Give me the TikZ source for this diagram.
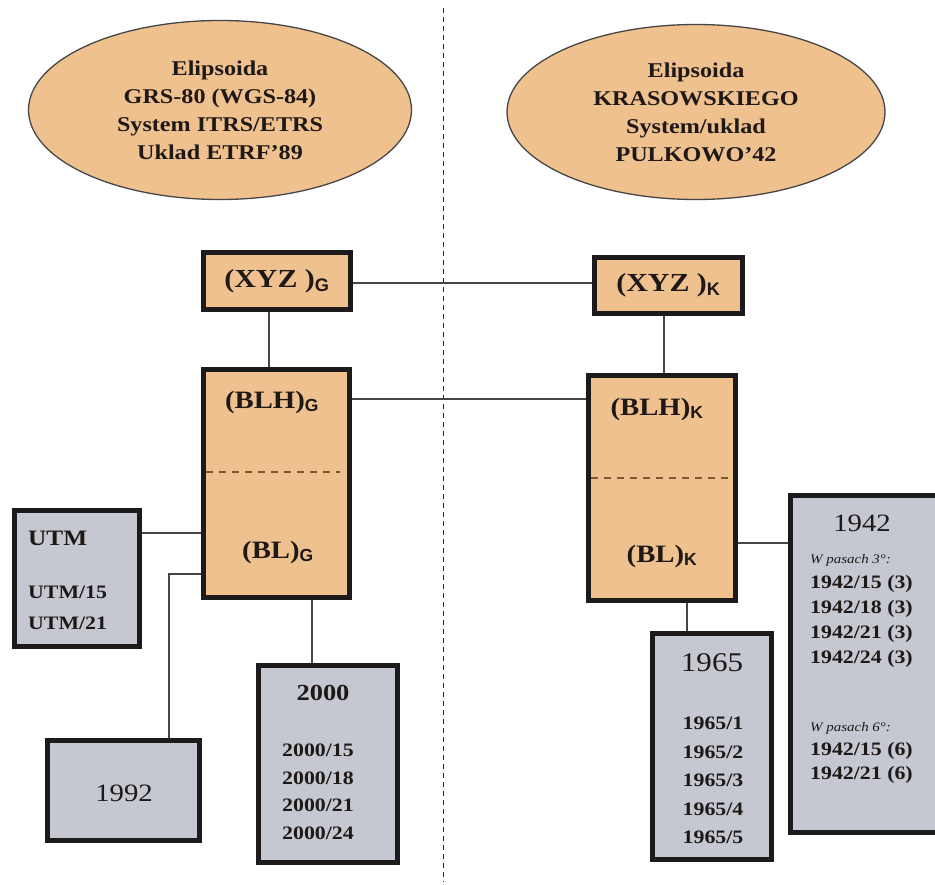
\documentclass[tikz,border=0pt]{standalone}
\usepackage{fontspec}
\setmainfont{Liberation Serif}[FakeStretch=1.15]
\setsansfont{Liberation Sans}
\usetikzlibrary{shapes.geometric}

\definecolor{tanfill}{RGB}{239,193,143}
\definecolor{slatefill}{RGB}{197,200,209}
\definecolor{boxline}{RGB}{28,26,26}
\definecolor{wire}{RGB}{70,70,70}
\definecolor{inktext}{RGB}{30,24,22}
\definecolor{divline}{RGB}{130,85,50}

\newcommand{\subG}{\textsubscript{\sffamily\bfseries G}}
\newcommand{\subK}{\textsubscript{\sffamily\bfseries K}}

\begin{document}
\begin{tikzpicture}[x=1pt, y=-1pt,
  ellipsoid/.style={ellipse, draw=wire, line width=1.3pt, fill=tanfill, inner sep=0pt,
    align=center, text=inktext, font=\fontsize{21}{28}\selectfont\bfseries},
  orangebox/.style={draw=boxline, line width=4.5pt, fill=tanfill, inner sep=0pt, text=inktext},
  graybox/.style={draw=boxline, line width=4.5pt, fill=slatefill, inner sep=0pt},
  link/.style={draw=wire, line width=1.5pt},
  divider/.style={divline, line width=1.6pt, dash pattern=on 7pt off 6pt},
  boxtext/.style={text=inktext, inner sep=0pt},
]
\useasboundingbox (0,0) rectangle (935,885);
\fill[white] (0,0) rectangle (935,885);

% Separator between the two systems
\draw[black!85, line width=1pt, dash pattern=on 5pt off 4pt] (443,8) -- (443,882);

% Ellipsoids
\node[ellipsoid, minimum width=383pt, minimum height=179pt] (elG) at (220,110)
  {Elipsoida\\GRS-80 (WGS-84)\\System ITRS/ETRS\\Uklad ETRF’89};
\node[ellipsoid, minimum width=378pt, minimum height=175pt] (elK) at (696,112)
  {Elipsoida\\KRASOWSKIEGO\\System/uklad\\PULKOWO’42};

% Geocentric coordinates
\node[orangebox, minimum width=147pt, minimum height=57pt, font=\fontsize{26}{28}\selectfont\bfseries] (xyzG) at (277,281) {(XYZ )\subG};
\node[orangebox, minimum width=148pt, minimum height=56pt, font=\fontsize{26}{28}\selectfont\bfseries] (xyzK) at (668.5,285.5) {(XYZ )\subK};

% Geodetic coordinates
\node[orangebox, minimum width=146pt, minimum height=228pt] (blhG) at (276.5,483.5) {};
\node[orangebox, minimum width=147pt, minimum height=225pt] (blhK) at (662,488) {};
\draw[divider] (206,472) -- (340,472);
\draw[divider] (591,478) -- (733,478);
\node[boxtext, font=\fontsize{25}{28}\selectfont\bfseries] (blhGtop) at (272,402) {(BLH)\subG};
\node[boxtext, font=\fontsize{25}{28}\selectfont\bfseries] (blhGbot) at (278,552) {(BL)\subG};
\node[boxtext, font=\fontsize{25}{28}\selectfont\bfseries] (blhKtop) at (657,409) {(BLH)\subK};
\node[boxtext, font=\fontsize{25}{28}\selectfont\bfseries] (blhKbot) at (662,556) {(BL)\subK};

% Map projections, left side
\node[graybox, minimum width=125pt, minimum height=136pt] (utm) at (77,578.5) {};
\node[boxtext, anchor=base west, font=\fontsize{22}{26}\selectfont\bfseries] (utmhead) at (28,545) {UTM};
\node[boxtext, anchor=base west, align=left, font=\fontsize{19}{31}\selectfont\bfseries] (utmlist) at (28,629.5) {UTM/15\\UTM/21};

\node[graybox, minimum width=152pt, minimum height=100pt] (y1992) at (123.5,790.5) {};
\node[boxtext, font=\fontsize{25}{28}\selectfont] (h1992) at (124,793) {1992};

\node[graybox, minimum width=139pt, minimum height=197pt] (y2000) at (328,764) {};
\node[boxtext, font=\fontsize{23}{28}\selectfont\bfseries] (h2000) at (323,693) {2000};
\node[boxtext, anchor=base, align=center, font=\fontsize{19}{27.7}\selectfont\bfseries] (l2000) at (318,839.5)
  {2000/15\\2000/18\\2000/21\\2000/24};

% Map projections, right side
\node[graybox, minimum width=119pt, minimum height=226pt] (y1965) at (712,746.5) {};
\node[boxtext, font=\fontsize{27}{30}\selectfont] (h1965) at (712,663) {1965};
\node[boxtext, anchor=base, align=center, font=\fontsize{19}{28.5}\selectfont\bfseries] (l1965) at (713,843.5)
  {1965/1\\1965/2\\1965/3\\1965/4\\1965/5};

% the 1942 box runs off the right edge
\node[graybox, minimum width=200pt, minimum height=337pt] (y1942) at (890.5,664) {};
\node[boxtext, font=\fontsize{25}{28}\selectfont] (h1942) at (862,523) {1942};
\node[boxtext, anchor=base west, align=left, font=\fontsize{19}{25}\selectfont\bfseries] (l1942a) at (810,663.5)
  {{\fontsize{13}{25}\selectfont\mdseries\itshape W pasach 3°:}\\1942/15 (3)\\1942/18 (3)\\1942/21 (3)\\1942/24 (3)};
\node[boxtext, anchor=base west, align=left, font=\fontsize{19}{24}\selectfont\bfseries] (l1942b) at (810,779.5)
  {{\fontsize{13}{24}\selectfont\mdseries\itshape W pasach 6°:}\\1942/15 (6)\\1942/21 (6)};

% Connectors
\draw[link] ([yshift=-2pt]xyzG.east) -- ([yshift=-2pt]xyzG.east -| xyzK.west);
\draw[link] ([xshift=-8pt]xyzG.south) -- ([xshift=-8pt]xyzG.south |- blhG.north);
\draw[link] ([xshift=-4.5pt]xyzK.south) -- ([xshift=-4.5pt]xyzK.south |- blhK.north);
\draw[link] (blhG.east |- 0,399) -- (blhK.west |- 0,399);
\draw[link] (utm.east |- 0,533) -- (blhG.west |- 0,533);
\draw[link] (blhG.west |- 0,574) -| ([xshift=45.5pt]y1992.north);
\draw[link] ([xshift=35.5pt]blhG.south) -- ([xshift=35.5pt]blhG.south |- y2000.north);
\draw[link] (blhK.east |- 0,543) -- (y1942.west |- 0,543);
\draw[link] ([xshift=25pt]blhK.south) -- ([xshift=25pt]blhK.south |- y1965.north);
\end{tikzpicture}
\end{document}
